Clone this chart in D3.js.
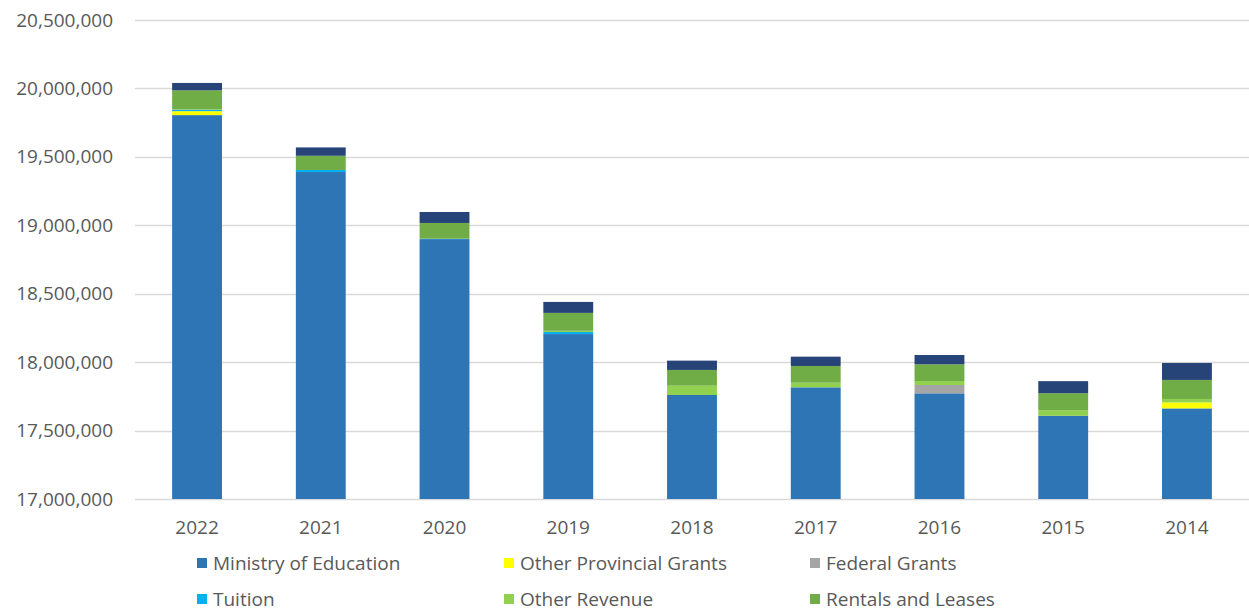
<!DOCTYPE html>
<html>
<head>
<meta charset="utf-8">
<script src="https://cdn.jsdelivr.net/npm/d3@7"></script>
<style>
  html, body { margin: 0; padding: 0; background: #ffffff; }
  svg { display: block; }
  text { font-family: "Open Sans", "Noto Sans", sans-serif; fill: #595959; }
</style>
</head>
<body>
<svg id="chart" width="1249" height="611"></svg>
<script>
const years = ["2022", "2021", "2020", "2019", "2018", "2017", "2016", "2015", "2014"];
const seriesNames = ["Ministry of Education", "Other Provincial Grants", "Federal Grants", "Tuition", "Other Revenue", "Rentals and Leases", "Other Income"];
const ministryOfEducation  = [19805000, 19389000, 18899000, 18205000, 17760000, 17816000, 17772000, 17608000, 17662000];
const otherProvincialGrants = [29000, 0, 0, 0, 0, 0, 0, 0, 44000];
const federalGrants         = [0, 0, 0, 0, 0, 0, 61000, 0, 0];
const tuition               = [10000, 15000, 3000, 15000, 0, 0, 0, 0, 0];
const otherRevenue          = [3000, 0, 0, 9000, 68000, 34000, 29000, 41000, 25000];
const rentalsAndLeases      = [139000, 104000, 115000, 131000, 115000, 122000, 122000, 124000, 139000];
const otherIncome           = [54000, 61000, 80000, 80000, 68000, 68000, 68000, 88000, 124000];
const yTicks = [17000000, 17500000, 18000000, 18500000, 19000000, 19500000, 20000000, 20500000];
const colors = ["#2E75B6", "#FFFF00", "#A5A5A5", "#00B0F0", "#92D050", "#70AD47", "#264478"];
const legendSeries = seriesNames.slice(0, 6);

const seriesValues = [ministryOfEducation, otherProvincialGrants, federalGrants, tuition, otherRevenue, rentalsAndLeases, otherIncome];
const rows = years.map((yr, i) => {
  const r = { year: yr };
  seriesNames.forEach((s, k) => r[s] = seriesValues[k][i]);
  return r;
});

const svg = d3.select("#chart");
const x = d3.scaleBand().domain(years).range([135, 1249]).paddingInner(0.597).paddingOuter(0.3);
const y = d3.scaleLinear().domain([17000000, 20500000]).range([499, 20]);

// gridlines
svg.append("g").selectAll("line").data(yTicks).join("line")
  .attr("x1", 135).attr("x2", 1249)
  .attr("y1", d => Math.round(y(d)) + 0.5).attr("y2", d => Math.round(y(d)) + 0.5)
  .attr("stroke", "#d9d9d9").attr("stroke-width", 1.5);

// y axis labels
const yAxis = d3.axisLeft(y).tickValues(yTicks).tickSize(0).tickPadding(0)
  .tickFormat(d3.format(","));
const gy = svg.append("g").attr("transform", "translate(113,0)").call(yAxis);
gy.select(".domain").remove();
gy.selectAll("text").style("font-size", "19px").attr("fill", "#595959")
  .style("font-family", "'Open Sans', sans-serif");

// stacked bars
const stack = d3.stack().keys(seriesNames).order(d3.stackOrderNone).offset(d3.stackOffsetNone);
const stacked = stack(rows);
const clampY = v => y(Math.max(v, 17000000));
svg.append("g").selectAll("g").data(stacked).join("g")
  .attr("fill", (d, i) => colors[i])
  .selectAll("rect").data(d => d).join("rect")
  .attr("x", d => x(d.data.year))
  .attr("width", x.bandwidth())
  .attr("y", d => clampY(d[1]))
  .attr("height", d => Math.max(0, clampY(d[0]) - clampY(d[1])));

// x axis labels
const xAxis = d3.axisBottom(x).tickSize(0).tickPadding(0);
const gx = svg.append("g").attr("transform", "translate(0,520)").call(xAxis);
gx.select(".domain").remove();
gx.selectAll("text").style("font-size", "19px").attr("fill", "#595959")
  .style("font-family", "'Open Sans', sans-serif").attr("dy", "0.71em");

// legend
const colX = [197, 504, 810];
const rowY = [563, 599];
const lg = svg.append("g").selectAll("g").data(legendSeries).join("g")
  .attr("transform", (d, i) => `translate(${colX[i % 3]},${rowY[Math.floor(i / 3)]})`);
lg.append("rect").attr("x", 0).attr("y", -5).attr("width", 10).attr("height", 10)
  .attr("fill", (d, i) => colors[i]);
lg.append("text").attr("x", 16).attr("y", 0).attr("dy", "0.35em")
  .style("font-size", "19px").text(d => d);
</script>
</body>
</html>
